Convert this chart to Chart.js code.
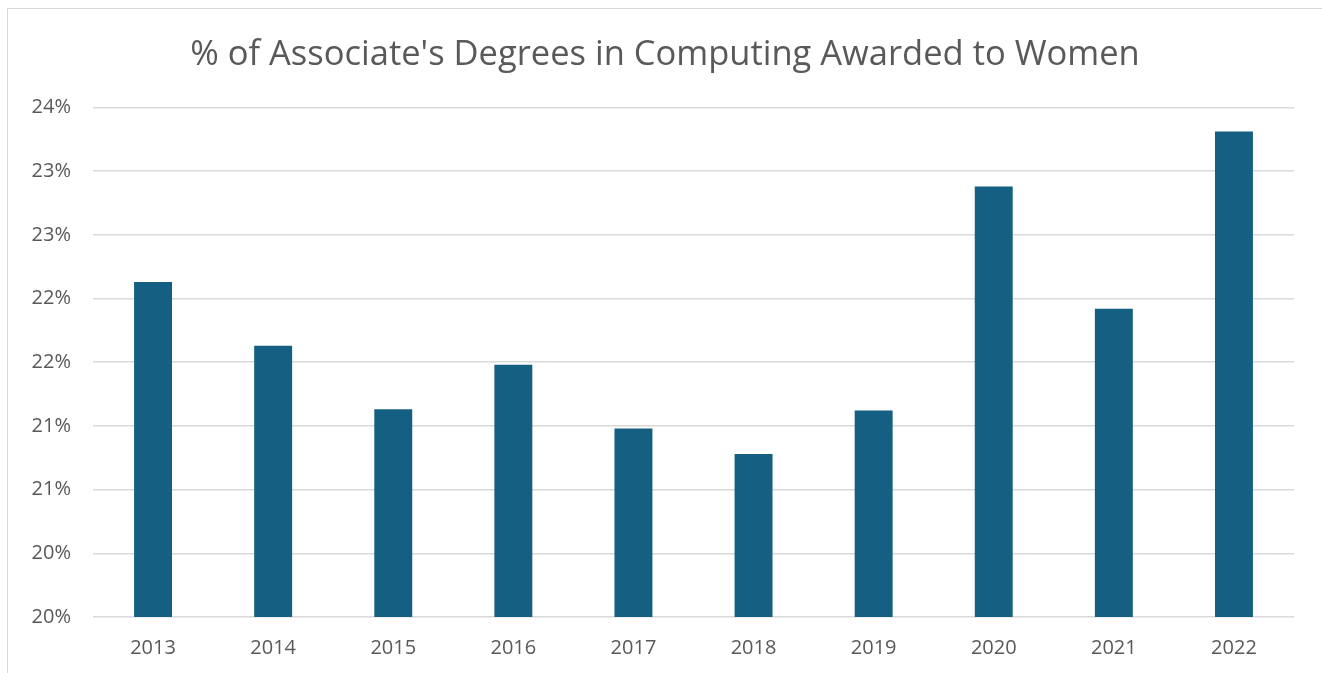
<!DOCTYPE html>
<html>
<head>
<meta charset="utf-8">
<script src="https://cdn.jsdelivr.net/npm/chart.js@4"></script>
<style>
  html, body { margin: 0; padding: 0; background: #fff; overflow: hidden; }
  .frame {
    position: absolute; left: 7px; top: 8px;
    width: 1330px; height: 680px;
    border-left: 1px solid #d9d9d9; border-top: 1px solid #d9d9d9;
  }
  .frame canvas { position: absolute; left: 0; top: 0; }
</style>
</head>
<body>
<div class="frame">
  <canvas id="degrees" width="1316" height="662"></canvas>
</div>
<script>
const years = ['2013', '2014', '2015', '2016', '2017', '2018', '2019', '2020', '2021', '2022'];
const pctWomen = [22.13, 21.63, 21.13, 21.48, 20.98, 20.78, 21.12, 22.88, 21.92, 23.31];
const yTickLabels = ['20%', '20%', '21%', '21%', '22%', '22%', '23%', '23%', '24%'];

const textColor = '#595959';
const fontFamily = "'Open Sans', sans-serif";

// title is centred on the whole frame, not on the padded area
const centreTitle = {
  id: 'centreTitle',
  afterLayout(chart) {
    if (chart.titleBlock) chart.titleBlock.right += 28;
  },
};

const ctx = document.getElementById('degrees');

new Chart(ctx, {
  type: 'bar',
  data: {
    labels: years,
    datasets: [
      {
        label: '% of women',
        data: pctWomen,
        backgroundColor: '#156082',
        categoryPercentage: 1,
        barPercentage: 0.316,
      },
    ],
  },
  options: {
    responsive: false,
    animation: false,
    layout: { padding: { top: 0, right: 30, bottom: 0, left: 0 } },
    plugins: {
      legend: { display: false },
      tooltip: { enabled: false },
      title: {
        display: true,
        text: "% of Associate's Degrees in Computing Awarded to Women",
        color: textColor,
        font: { family: fontFamily, size: 34.5, weight: 'normal' },
        padding: { top: 25, bottom: 32 },
      },
    },
    scales: {
      x: {
        grid: { display: false },
        border: { display: false },
        ticks: {
          color: textColor,
          font: { family: fontFamily, size: 20 },
          padding: 11,
        },
      },
      y: {
        min: 19.5,
        max: 23.5,
        afterFit: (scale) => { scale.width = 85; },
        border: { display: false },
        grid: { color: '#d9d9d9', lineWidth: 1.5, drawTicks: false },
        ticks: {
          stepSize: 0.5,
          color: textColor,
          font: { family: fontFamily, size: 20 },
          padding: 22,
          callback: (v, i) => yTickLabels[i],
        },
      },
    },
  },
  plugins: [centreTitle],
});
</script>
</body>
</html>
